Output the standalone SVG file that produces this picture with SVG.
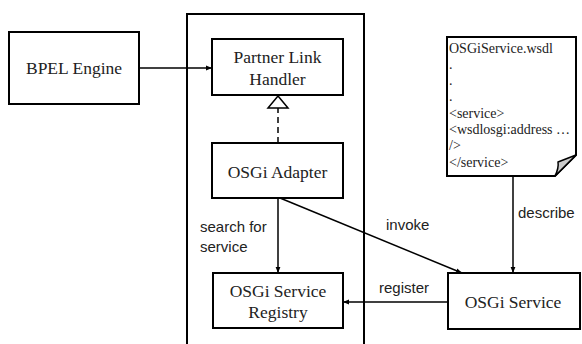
<svg xmlns="http://www.w3.org/2000/svg" width="582" height="344" viewBox="0 0 582 344">
<defs>
<style>
.box{fill:#fff;stroke:#000;stroke-width:2}
.t{font-family:"Liberation Serif","Times New Roman",serif;font-size:17.5px;fill:#222;text-anchor:middle}
.d{font-family:"Liberation Serif","Times New Roman",serif;font-size:14px;fill:#222}
.l{font-family:"Liberation Sans",Arial,sans-serif;font-size:15px;fill:#222}
.c{fill:none;stroke:#000;stroke-width:1.5}
</style>
<marker id="ah" viewBox="0 0 10 10" refX="10" refY="5" markerWidth="6" markerHeight="6" markerUnits="userSpaceOnUse" orient="auto">
<path d="M0,1 L10,5 L0,9 Z" fill="#000"/>
</marker>
</defs>
<rect width="582" height="344" fill="#fff"/>
<g id="container"><rect x="187" y="14" width="177" height="340" fill="none" stroke="#000" stroke-width="2"/></g>
<g id="bpel"><rect class="box" x="9" y="32" width="130" height="72"/><text class="t" x="74" y="74">BPEL Engine</text></g>
<g id="plh"><rect class="box" x="212" y="39" width="131" height="56"/><text class="t" x="277.5" y="63">Partner Link</text><text class="t" x="277.5" y="85">Handler</text></g>
<g id="adapter"><rect class="box" x="212" y="143" width="131" height="55"/><text class="t" x="277.5" y="178">OSGi Adapter</text></g>
<g id="registry"><rect class="box" x="213" y="273" width="130" height="55"/><text class="t" x="278" y="297">OSGi Service</text><text class="t" x="278" y="318">Registry</text></g>
<g id="service"><rect class="box" x="448" y="273" width="132" height="56"/><text class="t" x="513" y="308">OSGi Service</text></g>
<g id="wsdl">
<path d="M447,37 L576,37 L576,155 L555,176 L447,176 Z" fill="#fff" stroke="#000" stroke-width="2"/>
<path d="M555,176 Q559,168 558,162 L576,155 Z" fill="#ccc" stroke="#000" stroke-width="1.5" stroke-linejoin="round"/>
<text class="d" x="449" y="53">OSGiService.wsdl</text>
<text class="d" x="449" y="69">.</text>
<text class="d" x="449" y="85">.</text>
<text class="d" x="449" y="101">.</text>
<text class="d" x="449" y="118">&lt;service&gt;</text>
<text class="d" x="449" y="134">&lt;wsdlosgi:address …</text>
<text class="d" x="449" y="150">/&gt;</text>
<text class="d" x="449" y="167">&lt;/service&gt;</text>
</g>
<g id="connectors">
<line class="c" x1="139" y1="68" x2="212" y2="68" marker-end="url(#ah)"/>
<line class="c" x1="278" y1="143" x2="278" y2="108" stroke-dasharray="6,4"/>
<path d="M278,96 L268,108 L288,108 Z" fill="#fff" stroke="#000" stroke-width="1.5"/>
<line class="c" x1="278" y1="198" x2="278" y2="273" marker-end="url(#ah)"/>
<line class="c" x1="280" y1="198" x2="462" y2="273" marker-end="url(#ah)"/>
<line class="c" x1="448" y1="302" x2="343" y2="302" marker-end="url(#ah)"/>
<line class="c" x1="513" y1="176" x2="513" y2="273" marker-end="url(#ah)"/>
<text class="l" x="200" y="232">search for</text>
<text class="l" x="200" y="252">service</text>
<text class="l" x="386" y="230">invoke</text>
<text class="l" x="379" y="293">register</text>
<text class="l" x="518" y="218">describe</text>
</g>
</svg>
